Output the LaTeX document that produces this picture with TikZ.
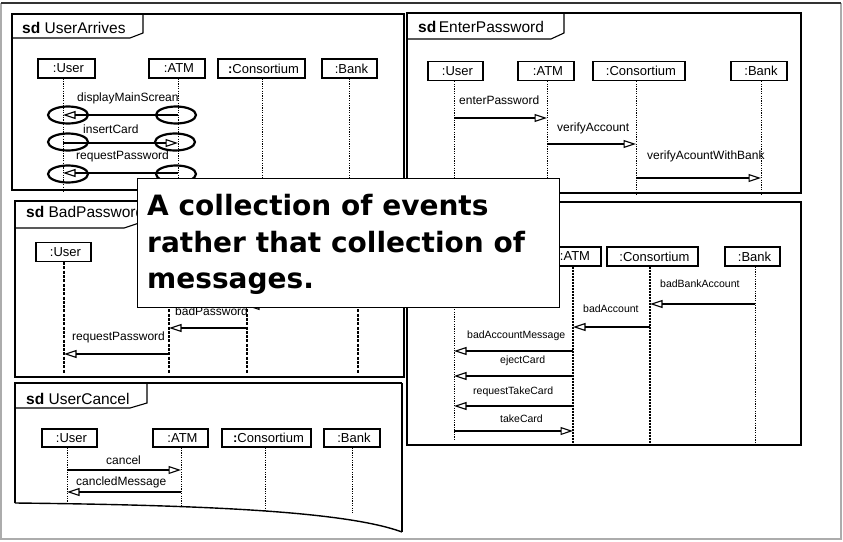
\documentclass[tikz,border=0pt]{standalone}
\usepackage{fontspec}
\setmainfont{Liberation Sans}
\newfontfamily\calloutfont{DejaVu Sans}
\usetikzlibrary{arrows.meta,shapes.geometric}

\begin{document}
\begin{tikzpicture}[x=1pt,y=-1pt,
  frame/.style={draw=black, line width=1.4pt},
  tabline/.style={draw=black, line width=1.1pt},
  head/.style={draw, line width=1.2pt, rectangle, minimum height=19pt,
    inner xsep=6pt, inner ysep=0pt, align=center,
    execute at begin node={\hspace*{4pt}},
    font=\fontsize{13}{15}\selectfont},
  life/.style={line width=1pt, dash pattern=on 1.2pt off 1.2pt},
  boldlife/.style={line width=2pt, dash pattern=on 2pt off 1pt},
  dashlife/.style={line width=1.8pt, dash pattern=on 3pt off 1.3pt},
  msg/.style={line width=1.3pt,
    -{Triangle[open, length=12.5pt, width=8pt, line width=1.1pt]}},
  lbl/.style={inner sep=0pt, anchor=west, font=\fontsize{12}{14}\selectfont},
  slbl/.style={lbl, font=\fontsize{10.5}{12}\selectfont},
  evt/.style={ellipse, draw, line width=2.2pt, minimum width=40pt,
    minimum height=17pt, inner sep=0pt},
  title/.style={inner sep=0pt, anchor=base west,
    font=\fontsize{15.5}{18}\selectfont},
  calltext/.style={inner sep=0pt, anchor=base west,
    font=\calloutfont\bfseries\fontsize{28}{34}\selectfont},
]
\useasboundingbox (0,0) rectangle (843,541);
\fill[white] (0,0) rectangle (843,541);
% page border
\draw[gray!65, line width=1.2pt] (1,3) -- (1,539) -- (841,539) -- (841,3);
\draw[gray!40!black, line width=1.4pt] (1,3) -- (841,3);

% ---------- sd UserArrives ----------
\draw[frame] (12,14) rectangle (404,190);
\draw[tabline] (12,38) -- (130,38) -- (143,33) -- (143,14);
\node[title] (uaT) at (22,33) {\textbf{sd} UserArrives};
\node[head, text width=45pt] (uaU) at (66.5,68.5) {:User};
\node[head, text width=44pt] (uaA) at (177,68.5) {:ATM};
\node[head, text width=75pt] (uaC) at (261.5,68.5) {{\bfseries :}Consortium};
\node[head, text width=43pt] (uaB) at (349.5,68.5) {:Bank};
\coordinate (uaUl) at (63,192);
\coordinate (uaAl) at (178,192);
\coordinate (uaCl) at (262,192);
\coordinate (uaBl) at (349,192);
\draw[life] (uaU.south -| uaUl) -- (uaUl);
\draw[life] (uaA.south -| uaAl) -- (uaAl);
\draw[life] (uaC.south -| uaCl) -- (uaCl);
\draw[life] (uaB.south -| uaBl) -- (uaBl);
% events marked on the lifelines
\node[evt] (e1l) at (68,115) {};
\node[evt] (e1r) at (176,115) {};
\node[evt] (e2l) at (68,142) {};
\node[evt] (e2r) at (175,142) {};
\node[evt] (e3l) at (68,174) {};
\node[evt] (e3r) at (176,174) {};
\draw[msg, line width=2.2pt] (uaAl |- 0,115) -- (uaUl |- 0,115);
\draw[msg] (uaUl |- 0,143) -- (uaAl |- 0,143);
\draw[msg] (uaAl |- 0,173) -- (uaUl |- 0,173);
\node[lbl] (uaM1) at (77,98) {displayMainScrean};
\node[lbl] (uaM2) at (83,129) {insertCard};
\node[lbl] (uaM3) at (76,156) {requestPassword};

% ---------- sd EnterPassword ----------
\draw[frame] (407,13) rectangle (801,193);
\draw[tabline] (407,39) -- (551,39) -- (564,33) -- (564,13);
\node[title] (epT) at (418,32.5) {\textbf{sd}\,EnterPassword};
\node[head, text width=43pt] (epU) at (455.5,71) {:User};
\node[head, text width=44pt] (epA) at (546,71) {:ATM};
\node[head, text width=80pt] (epC) at (639,71) {:Consortium};
\node[head, text width=44pt] (epB) at (759,71) {:Bank};
\coordinate (epUl) at (454,195);
\coordinate (epAl) at (547,195);
\coordinate (epCl) at (636,195);
\coordinate (epBl) at (761,195);
\draw[life] (epU.south -| epUl) -- (epUl);
\draw[life] (epA.south -| epAl) -- (epAl);
\draw[life] (epC.south -| epCl) -- (epCl);
\draw[life] (epB.south -| epBl) -- (epBl);
\draw[msg] (epUl |- 0,118) -- (epAl |- 0,118);
\draw[msg] (epAl |- 0,144) -- (epCl |- 0,144);
\draw[msg, line width=2.3pt] (epCl |- 0,178) -- (epBl |- 0,178);
\node[lbl] (epM1) at (459,100) {enterPassword};
\node[lbl] (epM2) at (557,128) {verifyAccount};
\node[lbl] (epM3) at (647,156) {verifyAcountWithBank};

% ---------- sd BadPassword ----------
\draw[frame] (15,201) rectangle (404,377);
\draw[tabline] (15,228) -- (124,228) -- (139,223) -- (139,201);
\node[title] (bpT) at (26,217.5) {\textbf{sd} BadPassword};
\node[head, text width=43pt] (bpU) at (63.5,252) {:User};
\coordinate (bpUl) at (64,373);
\coordinate (bpAt) at (169,262);
\coordinate (bpAl) at (169,373);
\coordinate (bpCt) at (247,262);
\coordinate (bpCl) at (247,373);
\coordinate (bpBt) at (358,262);
\coordinate (bpBl) at (358,373);
\draw[dashlife] (bpU.south -| bpUl) -- (bpUl);
\draw[dashlife] (bpAt) -- (bpAl);
\draw[dashlife] (bpCt) -- (bpCl);
\draw[dashlife] (bpBt) -- (bpBl);
\draw[msg] (bpBl |- 0,306) -- (bpCl |- 0,306);
\draw[msg] (bpCl |- 0,328) -- (bpAl |- 0,328);
\draw[msg] (bpAl |- 0,354) -- (bpUl |- 0,354);
\node[lbl] (bpM2) at (175,311) {badPassword};
\node[lbl] (bpM3) at (72,337) {requestPassword};

% ---------- lower right diagram ----------
\draw[frame] (407,202) rectangle (801,445);
\node[head, text width=44pt] (brA) at (573,256.5) {:ATM};
\node[head, text width=79pt] (brC) at (652.5,256.5) {:Consortium};
\node[head, text width=43pt] (brB) at (752.5,256.5) {:Bank};
\coordinate (brUt) at (454,266);
\coordinate (brUl) at (454,440);
\coordinate (brAl) at (573,445);
\coordinate (brCl) at (650,445);
\coordinate (brBl) at (755,445);
\draw[life] (brUt) -- (brUl);
\draw[boldlife] (brA.south -| brAl) -- (brAl);
\draw[boldlife] (brC.south -| brCl) -- (brCl);
\draw[life] (brB.south -| brBl) -- (brBl);
\draw[msg] (brBl |- 0,304) -- (brCl |- 0,304);
\draw[msg] (brCl |- 0,327) -- (brAl |- 0,327);
\draw[msg] (brAl |- 0,351) -- (brUl |- 0,351);
\draw[msg] (brAl |- 0,376) -- (brUl |- 0,376);
\draw[msg] (brAl |- 0,406) -- (brUl |- 0,406);
\draw[msg] (brUl |- 0,431) -- (brAl |- 0,431);
\node[slbl] (brM1) at (660,284) {badBankAccount};
\node[slbl] (brM2) at (583,309) {badAccount};
\node[slbl] (brM3) at (467,336) {badAccountMessage};
\node[slbl] (brM4) at (500,361) {ejectCard};
\node[slbl] (brM5) at (473,392) {requestTakeCard};
\node[slbl] (brM6) at (500,419) {takeCard};

% ---------- sd UserCancel ----------
\draw[frame] (15,503) -- (15,383) -- (402,383);
\draw[frame, line width=2.4pt] (402,383) -- (402,532);
\draw[frame] (402,532) .. controls (345,511) and (200,505) .. (15,503);
\draw[tabline] (15,408) -- (130,408) -- (147,403) -- (147,383);
\node[title] (ucT) at (26,404) {\textbf{sd} UserCancel};
\node[head, text width=43pt, minimum height=18pt] (ucU) at (69.5,438) {:User};
\node[head, text width=43pt, minimum height=18pt] (ucA) at (180.5,438) {:ATM};
\node[head, text width=77pt, minimum height=18pt] (ucC) at (266.5,438) {{\bfseries :}Consortium};
\node[head, text width=44pt, minimum height=18pt] (ucB) at (352,438) {:Bank};
\coordinate (ucUl) at (67,502);
\coordinate (ucAl) at (181,506);
\coordinate (ucCl) at (265,511);
\coordinate (ucBl) at (352,513);
\draw[life] (ucU.south -| ucUl) -- (ucUl);
\draw[life] (ucA.south -| ucAl) -- (ucAl);
\draw[life] (ucC.south -| ucCl) -- (ucCl);
\draw[life] (ucB.south -| ucBl) -- (ucBl);
\draw[msg] (ucUl |- 0,470) -- (ucAl |- 0,470);
\draw[msg] (ucAl |- 0,492) -- (ucUl |- 0,492);
\node[lbl] (ucM1) at (106,460) {cancel};
\node[lbl] (ucM2) at (76,482) {cancledMessage};

% ---------- callout on top ----------
\node[draw, fill=white, line width=1.3pt, minimum width=422pt,
  minimum height=129pt, anchor=north west, inner sep=0pt] (callout) at (137,178) {};
\node[calltext] (cl1) at (147,215) {A collection of events};
\node[calltext] (cl2) at (147,252) {rather that collection of};
\node[calltext] (cl3) at (147,288) {messages.};
\end{tikzpicture}
\end{document}
